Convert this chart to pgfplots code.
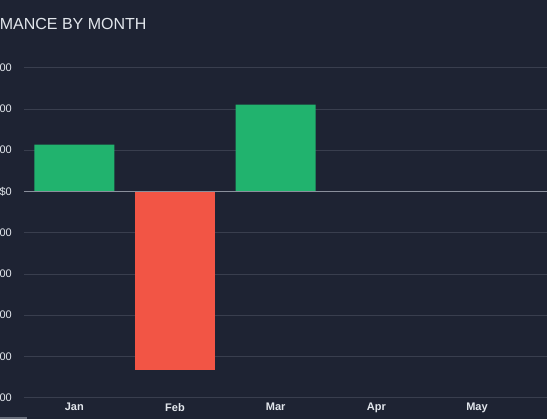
\documentclass[border=0pt]{standalone}
\usepackage{pgfplots}
\pgfplotsset{compat=1.18}
\usepackage{fontspec}
\setmainfont{Liberation Sans}

\definecolor{bg}{HTML}{1E2333}
\definecolor{gridc}{HTML}{393E4E}
\definecolor{zeroc}{HTML}{8A8F9C}
\definecolor{txt}{HTML}{E2E6EC}
\definecolor{gain}{HTML}{21B36E}
\definecolor{loss}{HTML}{F25545}

\begin{document}
\begin{tikzpicture}
  % visible window of the chart (the reference is a crop)
  \fill[bg] (-24pt,-21pt) rectangle (523pt,398pt);
  \begin{scope}
    \clip (-24pt,-21pt) rectangle (523pt,398pt);
    \node[anchor=base west, text=txt, font=\fontsize{16}{18}\selectfont, inner sep=0pt]
      at (-91pt,368pt) {PERFORMANCE BY MONTH};
    \begin{axis}[
        at={(0,0)}, anchor=south west,
        scale only axis,
        width=604pt, height=330pt,
        xmin=-0.5, xmax=5.5,
        ymin=-5000, ymax=3000,
        axis line style={draw=none},
        major tick length=0pt,
        xtick={0,1,2,3,4},
        xticklabels={Jan,Feb,Mar,Apr,May},
        ytick={-5000,-4000,-3000,-2000,-1000,0,1000,2000,3000},
        yticklabels={{-\$5,000},{-\$4,000},{-\$3,000},{-\$2,000},{-\$1,000},{\$0},{\$1,000},{\$2,000},{\$3,000}},
        ymajorgrids,
        grid style={gridc, line width=1pt},
        ticklabel style={text=txt, font=\fontsize{11}{13}\selectfont, inner sep=0pt},
        yticklabel style={anchor=east, xshift=-12pt},
        xticklabel style={anchor=north, yshift=-5pt, font=\fontsize{11}{13}\selectfont\bfseries},
        ybar, bar width=80pt, bar shift=0pt,
        clip=false,
      ]
      % gains
      \addplot[fill=gain, draw=none] coordinates {(0,1140) (2,2110) (3,0) (4,0)};
      % losses
      \addplot[fill=loss, draw=none] coordinates {(1,-4320)};
      % zero line
      \addplot[sharp plot, draw=zeroc, line width=1.5pt] coordinates {(-0.5,0) (5.5,0)};
    \end{axis}
    \draw[zeroc!70!bg, line width=1.5pt] (-24pt,-20pt) -- (3pt,-20pt);
  \end{scope}
  \pgfresetboundingbox
  \useasboundingbox (-24pt,-21pt) rectangle (523pt,398pt);
\end{tikzpicture}
\end{document}
